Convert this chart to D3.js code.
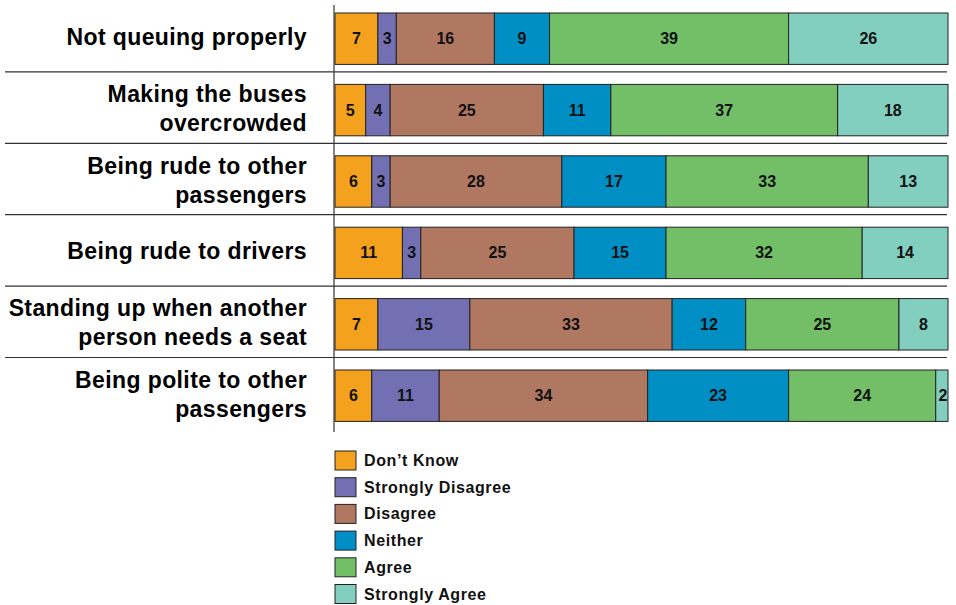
<!DOCTYPE html>
<html>
<head>
<meta charset="utf-8">
<script src="https://cdn.jsdelivr.net/npm/d3@7"></script>
<style>
  html, body { margin: 0; padding: 0; background: #fff; }
  svg { display: block; font-family: "Liberation Sans", Arial, Helvetica, sans-serif; }
</style>
</head>
<body>
<div id="chart"></div>
<script>
// Stacked survey responses, % per statement
const categories = [
  ['Not queuing properly'],
  ['Making the buses', 'overcrowded'],
  ['Being rude to other', 'passengers'],
  ['Being rude to drivers'],
  ['Standing up when another', 'person needs a seat'],
  ['Being polite to other', 'passengers'],
];
const seriesNames = ['Don\u2019t Know', 'Strongly Disagree', 'Disagree', 'Neither', 'Agree', 'Strongly Agree'];
const dontKnow         = [7, 5, 6, 11, 7, 6];
const stronglyDisagree = [3, 4, 3, 3, 15, 11];
const disagree         = [16, 25, 28, 25, 33, 34];
const neither          = [9, 11, 17, 15, 12, 23];
const agree            = [39, 37, 33, 32, 25, 24];
const stronglyAgree    = [26, 18, 13, 14, 8, 2];
const seriesValues = [dontKnow, stronglyDisagree, disagree, neither, agree, stronglyAgree];
const colors = ['#F4A11D', '#7270B3', '#B07761', '#008FC5', '#72BF68', '#82CFBF'];

(function () {
  'use strict';
  const W = 956, H = 605;
  const left = 335, right = 948;

  const rows = categories.map((c, i) => {
    const r = { key: i, label: c };
    seriesNames.forEach((s, j) => { r[s] = seriesValues[j][i]; });
    return r;
  });
  const stacked = d3.stack().keys(seriesNames)(rows);

  const svg = d3.select('#chart').append('svg').attr('width', W).attr('height', H);

  const x = d3.scaleLinear().domain([0, 100]).range([left, right]);
  const y = d3.scaleBand().domain(d3.range(categories.length))
    .range([3, 3 + 71.4 * categories.length]).paddingInner(0.28).paddingOuter(0.14);

  // row separators
  svg.selectAll('.sep').data(d3.range(1, categories.length)).enter().append('line')
    .attr('x1', 5).attr('x2', 947)
    .attr('y1', d => y(d) - 12.5).attr('y2', d => y(d) - 12.5)
    .attr('stroke', '#333').attr('stroke-width', 1.2);

  // bars
  const layer = svg.selectAll('.layer').data(stacked).enter().append('g')
    .attr('fill', (d, i) => colors[i]);
  layer.selectAll('rect').data(d => d).enter().append('rect')
    .attr('x', d => x(d[0])).attr('width', d => x(d[1]) - x(d[0]))
    .attr('y', d => y(d.data.key)).attr('height', y.bandwidth())
    .attr('stroke', '#222').attr('stroke-width', 1);

  // value labels
  layer.selectAll('text').data(d => d).enter().append('text')
    .attr('x', d => (x(d[0]) + x(d[1])) / 2 + ((d[1] - d[0]) < 3 ? 1 : 0))
    .attr('y', d => y(d.data.key) + y.bandwidth() / 2 + 5.5)
    .attr('text-anchor', 'middle')
    .style('font-size', '16px').style('font-weight', 'bold').style('fill', '#111')
    .text(d => d[1] - d[0]);

  // axis line
  svg.append('line').attr('x1', left - 1).attr('x2', left - 1).attr('y1', 5).attr('y2', 432)
    .attr('stroke', '#333').attr('stroke-width', 1.2);

  // category labels
  const lab = svg.selectAll('.cat').data(categories).enter().append('text')
    .attr('text-anchor', 'end')
    .style('font-size', '23px').style('font-weight', 'bold').style('fill', '#000')
    .style('letter-spacing', '0.4px');
  lab.each(function (lines, i) {
    const cy = y(i) + y.bandwidth() / 2;
    const lh = 29;
    const t = d3.select(this);
    lines.forEach((ln, k) => {
      t.append('tspan').attr('x', 307)
        .attr('y', cy + 6.5 + (k - (lines.length - 1) / 2) * lh)
        .text(ln);
    });
  });

  // legend
  const lg = svg.append('g').attr('transform', 'translate(335,451)');
  seriesNames.forEach((s, i) => {
    lg.append('rect').attr('x', 0).attr('y', i * 26.7).attr('width', 21).attr('height', 19)
      .attr('fill', colors[i]).attr('stroke', '#222').attr('stroke-width', 1);
    lg.append('text').attr('x', 29).attr('y', i * 26.7 + 15)
      .style('font-size', '16px').style('font-weight', 'bold').style('fill', '#111')
      .style('letter-spacing', '0.6px')
      .text(s);
  });
})();
</script>
</body>
</html>
